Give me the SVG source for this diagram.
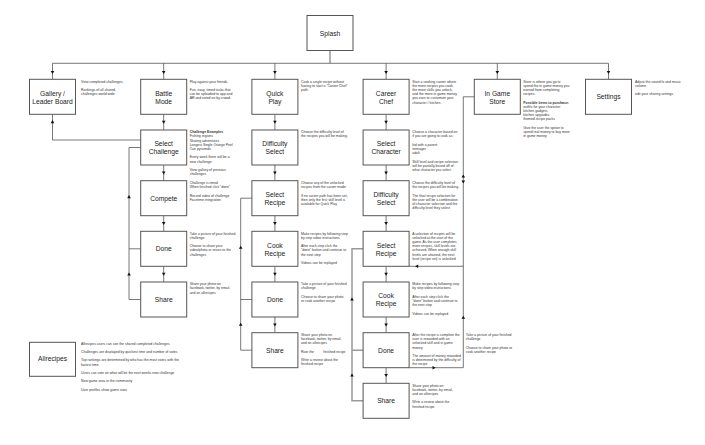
<svg xmlns="http://www.w3.org/2000/svg" xmlns:xlink="http://www.w3.org/1999/xlink" width="705" height="445" viewBox="0 0 705 445">
<style>
.box{fill:#fff;stroke:#555;stroke-width:1}
.lbl{font-family:"Liberation Sans",Arial,sans-serif;font-size:6.7px;fill:#222;text-anchor:middle}
.note{font-family:"Liberation Sans",Arial,sans-serif;font-size:3.45px;fill:#333}
.b{font-weight:bold}
.ln{fill:none;stroke:#555;stroke-width:0.8}
.gl{fill:none;stroke:#999;stroke-width:1.5}
.ah{fill:#111}
</style>
<defs>
<path id="ah" d="M-1.8,-1.5 L1.8,-1.5 L0,1.6 Z"/>
</defs>
<rect width="705" height="445" fill="#fff"/>

<g id="connectors">
<path class="gl" d="M330,50.5 V63.3"/>
<path class="ln" d="M52.5,63.3 H608.5 M52.5,63.3 V79.3 M163.7,63.3 V79.3 M274.9,63.3 V79.3 M386.1,63.3 V79.3 M497.3,63.3 V79.3 M608.5,63.3 V79.3"/>
<g class="ah">
<use xlink:href="#ah" transform="translate(52.5,72.5)"/>
<use xlink:href="#ah" transform="translate(163.7,72.5)"/>
<use xlink:href="#ah" transform="translate(274.9,72.5)"/>
<use xlink:href="#ah" transform="translate(386.1,72.5)"/>
<use xlink:href="#ah" transform="translate(497.3,72.5)"/>
<use xlink:href="#ah" transform="translate(608.5,72.5)"/>
</g>
<path class="ln" d="M163.7,114.3 V130 M163.7,165 V180.7 M163.7,215.7 V231.3 M163.7,266.3 V282"/>
<g class="ah">
<use xlink:href="#ah" transform="translate(163.7,122.2)"/>
<use xlink:href="#ah" transform="translate(163.7,172.9)"/>
<use xlink:href="#ah" transform="translate(163.7,223.5)"/>
<use xlink:href="#ah" transform="translate(163.7,274.2)"/>
</g>
<path class="ln" d="M274.9,114.3 V130 M274.9,165 V180.7 M274.9,215.7 V231.3 M274.9,266.3 V282 M274.9,317 V332.7"/>
<g class="ah">
<use xlink:href="#ah" transform="translate(274.9,122.2)"/>
<use xlink:href="#ah" transform="translate(274.9,172.9)"/>
<use xlink:href="#ah" transform="translate(274.9,223.5)"/>
<use xlink:href="#ah" transform="translate(274.9,274.2)"/>
<use xlink:href="#ah" transform="translate(274.9,324.9)"/>
</g>
<path class="ln" d="M386.1,114.3 V130 M386.1,165 V180.7 M386.1,215.7 V231.3 M386.1,266.3 V282 M386.1,317 V332.7 M386.1,367.7 V383.3"/>
<g class="ah">
<use xlink:href="#ah" transform="translate(386.1,122.2)"/>
<use xlink:href="#ah" transform="translate(386.1,172.9)"/>
<use xlink:href="#ah" transform="translate(386.1,223.5)"/>
<use xlink:href="#ah" transform="translate(386.1,274.2)"/>
<use xlink:href="#ah" transform="translate(386.1,324.9)"/>
<use xlink:href="#ah" transform="translate(386.1,375.5)"/>
</g>
<!-- gallery return -->
<path class="ln" d="M140.7,140 H52.5 V114.3"/>
<use class="ah" xlink:href="#ah" transform="translate(52.5,121.7) rotate(180)"/>
<!-- battle loop -->
<path class="ln" d="M140.7,147.5 H129 V299.5 H140.7 M129,248.8 H140.7"/>
<use class="ah" xlink:href="#ah" transform="translate(129,196.7) rotate(180)"/>
<use class="ah" xlink:href="#ah" transform="translate(129,274) rotate(180)"/>
<!-- quick loop -->
<path class="ln" d="M251.9,198.2 H240.7 V350.2 H251.9 M240.7,299.5 H251.9"/>
<use class="ah" xlink:href="#ah" transform="translate(240.7,247.3) rotate(180)"/>
<use class="ah" xlink:href="#ah" transform="translate(240.7,324.3) rotate(180)"/>
<!-- career left loop -->
<path class="gl" d="M363.1,248.8 H352 V400.8 H363.1 M352,350.2 H363.1"/>
<use class="ah" xlink:href="#ah" transform="translate(352,299) rotate(180)"/>
<use class="ah" xlink:href="#ah" transform="translate(352,375) rotate(180)"/>
<!-- right loop -->
<path class="ln" d="M474.3,96.8 H463.3 V367.7 H409.1 M463.3,266.3 H409.1"/>
<use class="ah" xlink:href="#ah" transform="translate(463.3,176) rotate(180)"/>
<use class="ah" xlink:href="#ah" transform="translate(463.3,182)"/>
<use class="ah" xlink:href="#ah" transform="translate(463.3,317.3) rotate(180)"/>
<use class="ah" xlink:href="#ah" transform="translate(416.7,266.3) rotate(90)"/>
<use class="ah" xlink:href="#ah" transform="translate(434,367.7) rotate(-90)"/>
</g>

<g id="splash">
<rect class="box" x="307" y="15.5" width="46" height="35"/>
<text class="lbl" x="330" y="36">Splash</text>
</g>

<g id="gallery">
<rect class="box" x="29.5" y="79.3" width="46" height="35"/>
<text class="lbl" x="52.5" y="95.5">Gallery /</text>
<text class="lbl" x="52.5" y="103.5">Leader Board</text>
<text class="note" x="81" y="82.5"><tspan x="81">View completed challenges</tspan><tspan x="81" dy="8.4">Rankings of all shared,</tspan><tspan x="81" dy="4.2">challenges world wide</tspan></text>
</g>

<g id="battle-mode">
<rect class="box" x="140.7" y="79.3" width="46" height="35"/>
<text class="lbl" x="163.7" y="95.5">Battle</text>
<text class="lbl" x="163.7" y="103.5">Mode</text>
<text class="note" x="189.7" y="82.5"><tspan x="189.7">Play against your friends.</tspan><tspan x="189.7" dy="8.4">Fun, easy, timed tasks that</tspan><tspan x="189.7" dy="4.2">can be uploaded to app and</tspan><tspan x="189.7" dy="4.2">AR and voted on by crowd.</tspan></text>
</g>

<g id="quick-play">
<rect class="box" x="251.9" y="79.3" width="46" height="35"/>
<text class="lbl" x="274.9" y="95.5">Quick</text>
<text class="lbl" x="274.9" y="103.5">Play</text>
<text class="note" x="301" y="82.5"><tspan x="301">Cook a single recipe without</tspan><tspan x="301" dy="4.2">having to start a "Career Chef"</tspan><tspan x="301" dy="4.2">path.</tspan></text>
</g>

<g id="career-chef">
<rect class="box" x="363.1" y="79.3" width="46" height="35"/>
<text class="lbl" x="386.1" y="95.5">Career</text>
<text class="lbl" x="386.1" y="103.5">Chef</text>
<text class="note" x="412.3" y="82.5"><tspan x="412.3">Start a cooking career where</tspan><tspan x="412.3" dy="4.2">the more recipes you cook,</tspan><tspan x="412.3" dy="4.2">the more skills you unlock,</tspan><tspan x="412.3" dy="4.2">and the more in game money</tspan><tspan x="412.3" dy="4.2">you earn to customize your</tspan><tspan x="412.3" dy="4.2">character / kitchen.</tspan></text>
</g>

<g id="in-game-store">
<rect class="box" x="474.3" y="79.3" width="46" height="35"/>
<text class="lbl" x="497.3" y="95.5">In Game</text>
<text class="lbl" x="497.3" y="103.5">Store</text>
<text class="note" x="523.3" y="82.5"><tspan x="523.3">Store is where you go to</tspan><tspan x="523.3" dy="4.2">spend the in game money you</tspan><tspan x="523.3" dy="4.2">earned from completing</tspan><tspan x="523.3" dy="4.2">recipes.</tspan><tspan x="523.3" dy="8.4" class="b">Possible items to purchase:</tspan><tspan x="523.3" dy="4.2">outfits for your character</tspan><tspan x="523.3" dy="4.2">kitchen gadgets</tspan><tspan x="523.3" dy="4.2">kitchen upgrades</tspan><tspan x="523.3" dy="4.2">themed recipe packs</tspan><tspan x="523.3" dy="8.4">Give the user the option to</tspan><tspan x="523.3" dy="4.2">spend real money to buy more</tspan><tspan x="523.3" dy="4.2">in game money</tspan></text>
</g>

<g id="settings">
<rect class="box" x="585.5" y="79.3" width="46" height="35"/>
<text class="lbl" x="608.5" y="99.3">Settings</text>
<text class="note" x="635" y="82.5"><tspan x="635">Adjust the sound fx and music</tspan><tspan x="635" dy="4.2">volume</tspan><tspan x="635" dy="8.4">edit your sharing settings</tspan></text>
</g>

<g id="select-challenge">
<rect class="box" x="140.7" y="130" width="46" height="35"/>
<text class="lbl" x="163.7" y="146.2">Select</text>
<text class="lbl" x="163.7" y="154.2">Challenge</text>
<text class="note" x="189.7" y="133.2"><tspan x="189.7" class="b">Challenge Examples</tspan><tspan x="189.7" dy="4.2">Fishing regions</tspan><tspan x="189.7" dy="4.2">Skating adventures</tspan><tspan x="189.7" dy="4.2">Longest Single Orange Peel</tspan><tspan x="189.7" dy="4.2">Can pyramids</tspan><tspan x="189.7" dy="8.4">Every week there will be a</tspan><tspan x="189.7" dy="4.2">new challenge</tspan><tspan x="189.7" dy="8.4">View gallery of previous</tspan><tspan x="189.7" dy="4.2">challenges</tspan></text>
</g>

<g id="compete">
<rect class="box" x="140.7" y="180.7" width="46" height="35"/>
<text class="lbl" x="163.7" y="200.7">Compete</text>
<text class="note" x="189.7" y="183.9"><tspan x="189.7">Challenge is timed</tspan><tspan x="189.7" dy="4.2">When finished click "done"</tspan><tspan x="189.7" dy="8.4">Record video of challenge</tspan><tspan x="189.7" dy="4.2">Facetime integration</tspan></text>
</g>

<g id="battle-done">
<rect class="box" x="140.7" y="231.3" width="46" height="35"/>
<text class="lbl" x="163.7" y="251.3">Done</text>
<text class="note" x="189.7" y="234.5"><tspan x="189.7">Take a picture of your finished</tspan><tspan x="189.7" dy="4.2">challenge</tspan><tspan x="189.7" dy="8.4">Choose to share your</tspan><tspan x="189.7" dy="4.2">video/photo or return to the</tspan><tspan x="189.7" dy="4.2">challenges</tspan></text>
</g>

<g id="battle-share">
<rect class="box" x="140.7" y="282" width="46" height="35"/>
<text class="lbl" x="163.7" y="302">Share</text>
<text class="note" x="189.7" y="285.2"><tspan x="189.7">Share your photo on</tspan><tspan x="189.7" dy="4.2">facebook, twitter, by email,</tspan><tspan x="189.7" dy="4.2">and on allrecipes</tspan></text>
</g>

<g id="quick-difficulty">
<rect class="box" x="251.9" y="130" width="46" height="35"/>
<text class="lbl" x="274.9" y="146.2">Difficulty</text>
<text class="lbl" x="274.9" y="154.2">Select</text>
<text class="note" x="301" y="133.2"><tspan x="301">Choose the difficulty level of</tspan><tspan x="301" dy="4.2">the recipes you will be making.</tspan></text>
</g>

<g id="quick-select-recipe">
<rect class="box" x="251.9" y="180.7" width="46" height="35"/>
<text class="lbl" x="274.9" y="196.9">Select</text>
<text class="lbl" x="274.9" y="204.9">Recipe</text>
<text class="note" x="301" y="183.9"><tspan x="301">Choose any of the unlocked</tspan><tspan x="301" dy="4.2">recipes from the career mode</tspan><tspan x="301" dy="8.4">If no career path has been set,</tspan><tspan x="301" dy="4.2">then only the first skill level is</tspan><tspan x="301" dy="4.2">available for Quick Play</tspan></text>
</g>

<g id="quick-cook-recipe">
<rect class="box" x="251.9" y="231.3" width="46" height="35"/>
<text class="lbl" x="274.9" y="247.5">Cook</text>
<text class="lbl" x="274.9" y="255.5">Recipe</text>
<text class="note" x="301" y="234.5"><tspan x="301">Make recipes by following step</tspan><tspan x="301" dy="4.2">by step video instructions</tspan><tspan x="301" dy="8.4">After each step click the</tspan><tspan x="301" dy="4.2">"done" button and continue to</tspan><tspan x="301" dy="4.2">the next step</tspan><tspan x="301" dy="8.4">Videos can be replayed</tspan></text>
</g>

<g id="quick-done">
<rect class="box" x="251.9" y="282" width="46" height="35"/>
<text class="lbl" x="274.9" y="302">Done</text>
<text class="note" x="301" y="285.2"><tspan x="301">Take a picture of your finished</tspan><tspan x="301" dy="4.2">challenge</tspan><tspan x="301" dy="8.4">Choose to share your photo</tspan><tspan x="301" dy="4.2">or cook another recipe</tspan></text>
</g>

<g id="quick-share">
<rect class="box" x="251.9" y="332.7" width="46" height="35"/>
<text class="lbl" x="274.9" y="352.7">Share</text>
<text class="note" x="301" y="335.9"><tspan x="301">Share your photo on</tspan><tspan x="301" dy="4.2">facebook, twitter, by email,</tspan><tspan x="301" dy="4.2">and on allrecipes</tspan><tspan x="301" dy="8.4">Rate the</tspan><tspan x="323.3">finished recipe</tspan><tspan x="301" dy="8.4">Write a review about the</tspan><tspan x="301" dy="4.2">finished recipe</tspan></text>
</g>

<g id="select-character">
<rect class="box" x="363.1" y="130" width="46" height="35"/>
<text class="lbl" x="386.1" y="146.2">Select</text>
<text class="lbl" x="386.1" y="154.2">Character</text>
<text class="note" x="412.3" y="133.2"><tspan x="412.3">Choose a character based on</tspan><tspan x="412.3" dy="4.2">if you are going to cook as:</tspan><tspan x="412.3" dy="8.4">kid with a parent</tspan><tspan x="412.3" dy="4.2">teenager</tspan><tspan x="412.3" dy="4.2">adult</tspan><tspan x="412.3" dy="8.4">Skill level and recipe selection</tspan><tspan x="412.3" dy="4.2">will be partially based off of</tspan><tspan x="412.3" dy="4.2">what character you select</tspan></text>
</g>

<g id="career-difficulty">
<rect class="box" x="363.1" y="180.7" width="46" height="35"/>
<text class="lbl" x="386.1" y="196.9">Difficulty</text>
<text class="lbl" x="386.1" y="204.9">Select</text>
<text class="note" x="412.3" y="183.9"><tspan x="412.3">Choose the difficulty level of</tspan><tspan x="412.3" dy="4.2">the recipes you will be making.</tspan><tspan x="412.3" dy="8.4">The final recipe selection for</tspan><tspan x="412.3" dy="4.2">the user will be a combination</tspan><tspan x="412.3" dy="4.2">of character selection and the</tspan><tspan x="412.3" dy="4.2">difficulty level they select</tspan></text>
</g>

<g id="career-select-recipe">
<rect class="box" x="363.1" y="231.3" width="46" height="35"/>
<text class="lbl" x="386.1" y="247.5">Select</text>
<text class="lbl" x="386.1" y="255.5">Recipe</text>
<text class="note" x="412.3" y="234.5"><tspan x="412.3">A selection of recipes will be</tspan><tspan x="412.3" dy="4.2">unlocked at the start of the</tspan><tspan x="412.3" dy="4.2">game. As the user completes</tspan><tspan x="412.3" dy="4.2">more recipes, skill levels are</tspan><tspan x="412.3" dy="4.2">achieved. When enough skill</tspan><tspan x="412.3" dy="4.2">levels are attained, the next</tspan><tspan x="412.3" dy="4.2">level (recipe set) is unlocked</tspan></text>
</g>

<g id="career-cook-recipe">
<rect class="box" x="363.1" y="282" width="46" height="35"/>
<text class="lbl" x="386.1" y="298.2">Cook</text>
<text class="lbl" x="386.1" y="306.2">Recipe</text>
<text class="note" x="412.3" y="285.2"><tspan x="412.3">Make recipes by following step</tspan><tspan x="412.3" dy="4.2">by step video instructions</tspan><tspan x="412.3" dy="8.4">After each step click the</tspan><tspan x="412.3" dy="4.2">"done" button and continue to</tspan><tspan x="412.3" dy="4.2">the next step</tspan><tspan x="412.3" dy="8.4">Videos can be replayed</tspan></text>
</g>

<g id="career-done">
<rect class="box" x="363.1" y="332.7" width="46" height="35"/>
<text class="lbl" x="386.1" y="352.7">Done</text>
<text class="note" x="412.3" y="335.9"><tspan x="412.3">After the recipe is complete the</tspan><tspan x="412.3" dy="4.2">user is rewarded with an</tspan><tspan x="412.3" dy="4.2">unlocked skill and in game</tspan><tspan x="412.3" dy="4.2">money</tspan><tspan x="412.3" dy="8.4">The amount of money rewarded</tspan><tspan x="412.3" dy="4.2">is determined by the difficulty of</tspan><tspan x="412.3" dy="4.2">the recipe</tspan></text>
<text class="note" x="465.8" y="335.9"><tspan x="465.8">Take a picture of your finished</tspan><tspan x="465.8" dy="4.2">challenge</tspan><tspan x="465.8" dy="8.4">Choose to share your photo or</tspan><tspan x="465.8" dy="4.2">cook another recipe</tspan></text>
</g>

<g id="career-share">
<rect class="box" x="363.1" y="383.3" width="46" height="35"/>
<text class="lbl" x="386.1" y="403.3">Share</text>
<text class="note" x="412.3" y="386.5"><tspan x="412.3">Share your photo on</tspan><tspan x="412.3" dy="4.2">facebook, twitter, by email,</tspan><tspan x="412.3" dy="4.2">and on allrecipes</tspan><tspan x="412.3" dy="8.4">Write a review about the</tspan><tspan x="412.3" dy="4.2">finished recipe</tspan></text>
</g>

<g id="allrecipes">
<rect class="box" x="29.5" y="342.3" width="46" height="34"/>
<text class="lbl" x="52.5" y="361.3">Allrecipes</text>
<text class="note" x="81" y="344.5"><tspan x="81">Allrecipes users can see the shared completed challenges</tspan><tspan x="81" dy="8.4">Challenges are displayed by quickest time and number of votes</tspan><tspan x="81" dy="8.4">Top rankings are determined by who has the most votes with the</tspan><tspan x="81" dy="4.2">fastest time</tspan><tspan x="81" dy="8.4">Users can vote on what will be the next weeks new challenge</tspan><tspan x="81" dy="8.4">New game area in the community</tspan><tspan x="81" dy="8.4">User profiles show game stats</tspan></text>
</g>
</svg>
